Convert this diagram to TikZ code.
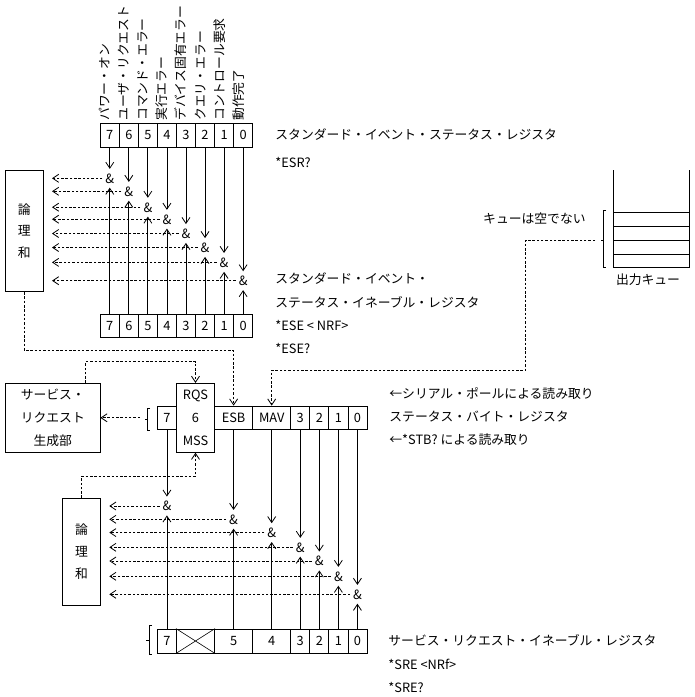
\documentclass[tikz,border=0pt]{standalone}
\usepackage{fontspec}
\setmainfont{Noto Sans CJK JP}
\usetikzlibrary{arrows.meta}
\begin{document}
\begin{tikzpicture}[x=1pt,y=-1pt,
  font=\fontsize{12.8}{14}\selectfont,
  line width=0.8pt,
  every node/.style={inner sep=0pt, text height=11.2pt, text depth=1.6pt},
  cell/.style={draw, minimum width=19.05pt, minimum height=23.5pt},
  wcell/.style={draw, minimum width=38.1pt, minimum height=23.5pt},
  amp/.style={minimum width=14pt, minimum height=18pt},
  txt/.style={anchor=west},
  lab/.style={anchor=west, rotate=90},
  box/.style={draw, align=center},
  arr/.style={-{Straight Barb[length=6pt,width=8pt]}},
  darr/.style={arr, dash pattern=on 2.5pt off 1.8pt},
  dline/.style={dash pattern=on 2.5pt off 1.8pt}]
\useasboundingbox (0,0) rectangle (695,697);

% ---------- top labels ----------
\foreach \b/\t in {7/パワー・オン,6/ユーザ・リクエスト,5/コマンド・エラー,4/実行エラー,3/デバイス固有エラー,2/クエリ・エラー,1/コントロール要求,0/動作完了}{
  \pgfmathsetmacro\cx{100.25+19.05*(7.5-\b)-4.8}
  \node[lab] (lab\b) at (\cx,121) {\t};
}

% ---------- registers (standard event) ----------
\foreach \b in {7,...,0}{
  \pgfmathsetmacro\cx{100.25+19.05*(7.5-\b)}
  \node[cell, minimum height=24pt] (t\b) at (\cx,135) {\b};
  \node[cell, minimum height=23pt] (e\b) at (\cx,325.5) {\b};
}

% ---------- & gates, top ----------
\foreach \b/\ry in {7/178.3,6/191.3,5/207.2,4/219.2,3/233.5,2/247.5,1/262.4,0/280.7}{
  \pgfmathsetmacro\cx{100.25+19.05*(7.5-\b)}
  \node[amp] (a\b) at (\cx,\ry) {\&};
  \coordinate (l\b) at (52,\ry);
  \draw[arr] (t\b.south) -- (a\b.north);
  \draw[arr] (e\b.north) -- (a\b.south);
  \draw[darr] (a\b.west) -- (l\b);
}

% OR box 1
\node[box, minimum width=38.3pt, minimum height=121.7pt, font=\fontsize{12.8}{21.5}\selectfont, text height=, text depth=] (or1) at (24.15,230.85) {論\\理\\和};

% right texts (top)
\node[txt] (sesr) at (275,135) {スタンダード・イベント・ステータス・レジスタ};
\node[txt] (esrq) at (275,162.7) {*ESR?};
\node[txt] (sese1) at (275,279) {スタンダード・イベント・};
\node[txt] (sese2) at (275,302.3) {ステータス・イネーブル・レジスタ};
\node[txt] (esen) at (275,325.7) {*ESE < NRF>};
\node[txt] (eseq) at (275,349) {*ESE?};

% ---------- output queue ----------
\draw (613.3,170) -- (613.3,267.7) -- (689,267.7) -- (689,170);
\foreach \yy in {212.3,226,240.3,254.3}{ \draw (613.3,\yy) -- (689,\yy); }
\draw (606,210) -- (603.3,210) -- (603.3,267.7) -- (606,267.7);
\draw (603.3,240) -- (600.7,240);
\node[anchor=east] (qne) at (586,219) {キューは空でない};
\node (oq) at (648,280) {出力キュー};
\coordinate (qs) at (595,240);
\coordinate (qc) at (525.7,240);

% ---------- status byte register ----------
\node[cell] (s7) at (166.925,417.75) {7};
\node[draw, minimum width=38.1pt, minimum height=69pt, align=center, font=\fontsize{12.8}{23}\selectfont, text height=, text depth=] (rqs) at (195.5,417.8) {RQS\\6\\MSS};
\node[wcell] (s5) at (233.6,417.75) {ESB};
\node[wcell] (s4) at (271.7,417.75) {MAV};
\node[cell] (s3) at (300.275,417.75) {3};
\node[cell] (s2) at (319.325,417.75) {2};
\node[cell] (s1) at (338.375,417.75) {1};
\node[cell] (s0) at (357.425,417.75) {0};
\draw (150,408) -- (147,408) -- (147,430) -- (150,430);
\draw (147,419) -- (145,419);

\node[txt] (sp) at (389,393.3) {←シリアル・ポールによる読み取り};
\node[txt] (sbr) at (389,416.7) {ステータス・バイト・レジスタ};
\node[txt] (stb) at (389,440) {←*STB? による読み取り};

% service request generation box
\node[box, minimum width=94.3pt, minimum height=69pt, font=\fontsize{12.8}{23}\selectfont, text height=, text depth=] (sr) at (52.85,417.8) {サービス・\\リクエスト\\生成部};
\coordinate (sbl) at (140,417.8);
\draw[darr] (sbl) -- (sr.east);

% dashed connectors
\draw[darr] (or1.south) -- ++(0,58.3) -| (s5.north);
\draw[darr] ([xshift=32.85pt]sr.north) -- ++(0,-21.3) -| (rqs.north);
\draw[darr] (qs) -- (qc) -- ++(0,130) -| (s4.north);

% ---------- SRE register ----------
\node[cell, minimum height=24pt] (r7) at (166.925,641) {7};
\node[draw, minimum width=38.1pt, minimum height=24pt] (rx) at (195.5,641) {};
\draw[line width=0.6pt] (rx.north west) -- (rx.south east) (rx.south west) -- (rx.north east);
\node[wcell, minimum height=24pt] (r5) at (233.6,641) {5};
\node[wcell, minimum height=24pt] (r4) at (271.7,641) {4};
\node[cell, minimum height=24pt] (r3) at (300.275,641) {3};
\node[cell, minimum height=24pt] (r2) at (319.325,641) {2};
\node[cell, minimum height=24pt] (r1) at (338.375,641) {1};
\node[cell, minimum height=24pt] (r0) at (357.425,641) {0};
\draw (152,625.5) -- (148.9,625.5) -- (148.9,654) -- (152,654);
\draw (148.9,640) -- (145.8,640);

\node[txt] (sre1) at (388,641) {サービス・リクエスト・イネーブル・レジスタ};
\node[txt] (sre2) at (388,664.4) {*SRE <NRf>};
\node[txt] (sre3) at (388,687.5) {*SRE?};

% OR box 2
\node[box, minimum width=38.4pt, minimum height=107.4pt, font=\fontsize{12.8}{22}\selectfont, text height=, text depth=] (or2) at (81.5,552) {論\\理\\和};
\draw[darr] (or2.north) -- ++(0,-21.6) -| (rqs.south);

% ---------- & gates, bottom ----------
\foreach \n/\ry in {7/506,5/519.3,4/532.6,3/547.3,2/561,1/576.3,0/594.3}{
  \coordinate (yy\n) at (0,\ry);
  \node[amp] (b\n) at (s\n |- yy\n) {\&};
  \coordinate (m\n) at (109.3,\ry);
  \draw[arr] (s\n.south) -- (b\n.north);
  \draw[arr] (r\n.north) -- (b\n.south);
  \draw[darr] (b\n.west) -- (m\n);
}
\end{tikzpicture}
\end{document}
